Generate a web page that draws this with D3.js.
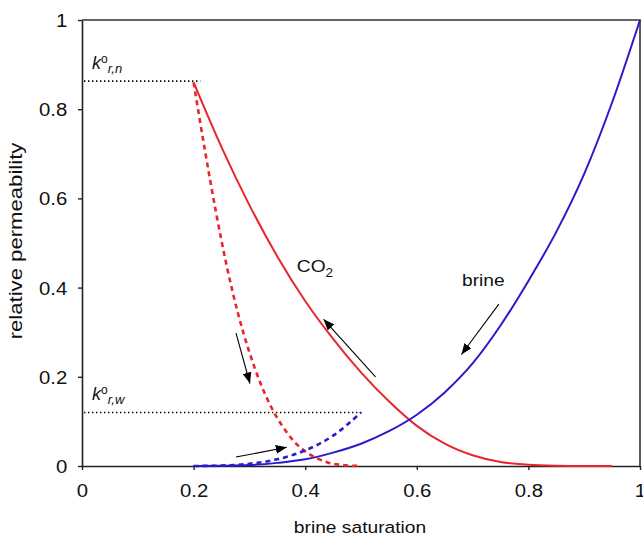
<!DOCTYPE html>
<html>
  <head>
    <meta charset="utf-8">
    <title>Relative permeability</title>
    <style>
      body { margin: 0; background: #fff; }
      svg text { font-family: "Liberation Sans", Arial, sans-serif; fill: #111; }
    </style>
  </head>
  <body>
    <svg width="643" height="538"></svg>
    <script src="https://cdn.jsdelivr.net/npm/d3@7"></script>
    <script>
      // tick values / labels
      var xTicks = [0, 0.2, 0.4, 0.6, 0.8, 1];
      var xTickLabels = ['0', '0.2', '0.4', '0.6', '0.8', '1'];
      var yTicks = [0, 0.2, 0.4, 0.6, 0.8, 1];
      var yTickLabels = ['0', '0.2', '0.4', '0.6', '0.8', '1'];

      // brine saturation / relative permeability
      var co2Sw = [0.2, 0.25, 0.3, 0.35, 0.4, 0.45, 0.5, 0.55, 0.6, 0.65, 0.7, 0.75, 0.8, 0.85, 0.9, 0.95];
      var co2Kr = [0.86, 0.715, 0.585, 0.47, 0.37, 0.285, 0.21, 0.145, 0.09, 0.05, 0.024, 0.009, 0.003, 0.0007, 0, 0];

      var brineSw = [0.2, 0.25, 0.3, 0.35, 0.4, 0.45, 0.5, 0.55, 0.6, 0.65, 0.7, 0.75, 0.8, 0.85, 0.9, 0.95, 1];
      var brineKr = [0, 0.0005, 0.002, 0.007, 0.015, 0.03, 0.05, 0.078, 0.115, 0.165, 0.23, 0.315, 0.415, 0.525, 0.655, 0.815, 1];

      var co2DashSw = [0.2, 0.22, 0.24, 0.26, 0.28, 0.3, 0.32, 0.34, 0.36, 0.38, 0.4, 0.42, 0.44, 0.46, 0.48, 0.5];
      var co2DashKr = [0.86, 0.71, 0.57, 0.445, 0.34, 0.255, 0.185, 0.13, 0.088, 0.055, 0.033, 0.018, 0.008, 0.003, 0.001, 0];

      var brineDashSw = [0.2, 0.25, 0.3, 0.35, 0.4, 0.45, 0.5];
      var brineDashKr = [0, 0.001, 0.005, 0.015, 0.035, 0.068, 0.12];

      // end-point permeabilities
      var krnEnd = 0.863, krnEndSw = 0.212;
      var krwEnd = 0.12, krwEndSw = 0.502;

      // arrows: [x1, y1, x2, y2] in data units, head at the second point
      var arrows = [
        [0.526, 0.200, 0.433, 0.329],
        [0.747, 0.363, 0.680, 0.250],
        [0.276, 0.298, 0.301, 0.185],
        [0.276, 0.020, 0.367, 0.042]
      ];

      var svg = d3.select('svg');
      var margin = {top: 20, right: 3, bottom: 72, left: 82};
      var width = 643 - margin.left - margin.right;
      var height = 538 - margin.top - margin.bottom;
      var stretch = 'scale(1.13,1)';

      var x = d3.scaleLinear().domain([0, 1]).range([0, width]);
      var y = d3.scaleLinear().domain([0, 1]).range([height, 0]);

      var g = svg.append('g')
        .attr('transform', 'translate(' + margin.left + ',' + margin.top + ')');

      var defs = svg.append('defs');
      defs.append('marker')
          .attr('id', 'head')
          .attr('viewBox', '0 0 10 8')
          .attr('refX', 10).attr('refY', 4)
          .attr('markerUnits', 'userSpaceOnUse')
          .attr('markerWidth', 11).attr('markerHeight', 9)
          .attr('orient', 'auto')
        .append('path')
          .attr('d', 'M0,0L10,4L0,8Z')
          .attr('fill', '#000');

      // axes
      var xAxis = d3.axisBottom(x)
        .tickValues(xTicks)
        .tickFormat(function(d, i) { return xTickLabels[i]; })
        .tickSize(4).tickSizeOuter(0).tickPadding(14);
      var yAxis = d3.axisLeft(y)
        .tickValues(yTicks)
        .tickFormat(function(d, i) { return yTickLabels[i]; })
        .tickSize(4).tickSizeOuter(0).tickPadding(9);

      var gx = g.append('g').attr('transform', 'translate(0,' + height + ')').call(xAxis);
      var gy = g.append('g').call(yAxis);

      [gx, gy].forEach(function(a) {
        a.select('.domain').attr('stroke', '#222').attr('stroke-width', 1.6);
        a.selectAll('.tick line').attr('stroke', '#222').attr('stroke-width', 1.4);
        a.selectAll('.tick text')
          .attr('font-size', 18)
          .attr('font-family', '"Liberation Sans", Arial, sans-serif')
          .attr('fill', '#111')
          .attr('transform', stretch);
      });
      gy.selectAll('.tick text').attr('dy', '0.36em');

      // top and right frame
      g.append('path')
        .attr('d', 'M0,0H' + width + 'V' + height)
        .attr('fill', 'none')
        .attr('stroke', '#333')
        .attr('stroke-width', 1.6);

      // axis titles
      g.append('text')
        .attr('transform', 'translate(' + (width / 2 - 1) + ',' + (height + 67) + ') ' + stretch)
        .attr('text-anchor', 'middle')
        .attr('font-size', 17)
        .text('brine saturation');

      g.append('text')
        .attr('transform', 'translate(-60,' + (height / 2 - 2) + ') rotate(-90) scale(1.23,1)')
        .attr('text-anchor', 'middle')
        .attr('font-size', 18)
        .text('relative permeability');

      // end-point dotted lines
      var dotted = [[krnEndSw, krnEnd], [krwEndSw, krwEnd]];
      g.selectAll('.endpoint')
          .data(dotted)
        .enter().append('line')
          .attr('class', 'endpoint')
          .attr('x1', x(0) + 2)
          .attr('x2', function(d) { return x(d[0]); })
          .attr('y1', function(d) { return y(d[1]); })
          .attr('y2', function(d) { return y(d[1]); })
          .attr('stroke', '#000')
          .attr('stroke-width', 1.6)
          .attr('stroke-dasharray', '1.4,2.6');

      // k labels
      var kLabels = [{v: krnEnd, sub: 'r,n'}, {v: krwEnd, sub: 'r,w'}];
      kLabels.forEach(function(k) {
        var t = g.append('text')
          .attr('x', 10)
          .attr('y', y(k.v) - 12)
          .attr('font-size', 18)
          .attr('font-family', '"Liberation Serif", "Times New Roman", serif');
        t.append('tspan').attr('font-style', 'italic').text('k');
        t.append('tspan').attr('font-size', 12).attr('dy', -6).text('o');
        t.append('tspan').attr('font-style', 'italic').attr('font-size', 13).attr('dy', 10).text(k.sub);
      });

      // curves
      function zip(xs, ys) { return xs.map(function(d, i) { return [d, ys[i]]; }); }
      var line = d3.line()
        .x(function(d) { return x(d[0]); })
        .y(function(d) { return y(d[1]); })
        .curve(d3.curveMonotoneX);

      var curves = [
        {data: zip(co2Sw, co2Kr), color: '#e8262b', dash: null, w: 2},
        {data: zip(brineSw, brineKr), color: '#2a1bc9', dash: null, w: 2},
        {data: zip(co2DashSw, co2DashKr), color: '#e8262b', dash: '5,4', w: 2.6},
        {data: zip(brineDashSw, brineDashKr), color: '#2a1bc9', dash: '5,4', w: 2.6}
      ];

      g.selectAll('.curve')
          .data(curves)
        .enter().append('path')
          .attr('class', 'curve')
          .attr('d', function(d) { return line(d.data); })
          .attr('fill', 'none')
          .attr('stroke', function(d) { return d.color; })
          .attr('stroke-width', function(d) { return d.w; })
          .attr('stroke-dasharray', function(d) { return d.dash; });

      // arrows
      g.selectAll('.arrow')
          .data(arrows)
        .enter().append('line')
          .attr('class', 'arrow')
          .attr('x1', function(d) { return x(d[0]); })
          .attr('y1', function(d) { return y(d[1]); })
          .attr('x2', function(d) { return x(d[2]); })
          .attr('y2', function(d) { return y(d[3]); })
          .attr('stroke', '#000')
          .attr('stroke-width', 1.1)
          .attr('marker-end', 'url(#head)');

      // series labels
      var co2Label = g.append('text')
        .attr('transform', 'translate(' + x(0.385) + ',' + y(0.436) + ') ' + stretch)
        .attr('font-size', 17);
      co2Label.append('tspan').text('CO');
      co2Label.append('tspan').attr('font-size', 12).attr('dy', 5).text('2');

      g.append('text')
        .attr('transform', 'translate(' + x(0.681) + ',' + y(0.404) + ') ' + stretch)
        .attr('font-size', 17)
        .text('brine');
    </script>
  </body>
</html>
